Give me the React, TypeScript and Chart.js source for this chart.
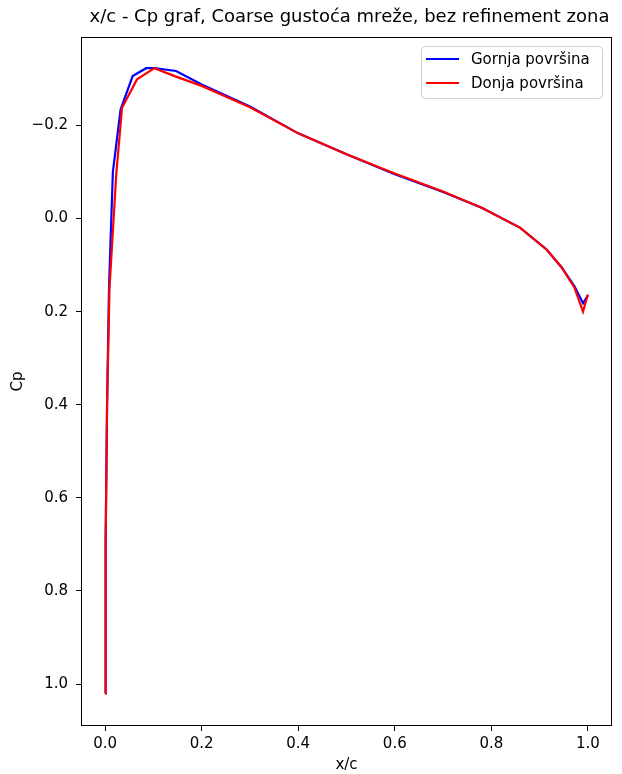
import { useEffect, useRef } from 'react';
import { Chart, registerables } from 'chart.js';

Chart.register(...registerables);

const titleText = 'x/c - Cp graf, Coarse gustoća mreže, bez refinement zona';
const xLabel = 'x/c';
const yLabel = 'Cp';
const seriesNames = ['Gornja površina', 'Donja površina'];
const seriesColors = ['#0000ff', '#ff0000'];

const upperX = [0, 0.001, 0.004, 0.008, 0.016, 0.032, 0.057, 0.085, 0.102, 0.147, 0.2, 0.3, 0.4, 0.5, 0.6, 0.7, 0.78, 0.86, 0.915, 0.945, 0.972, 0.99, 1.0];
const upperCp = [1.02, 0.7, 0.4, 0.15, -0.1, -0.234, -0.306, -0.323, -0.323, -0.317, -0.288, -0.241, -0.183, -0.138, -0.095, -0.057, -0.023, 0.02, 0.067, 0.104, 0.145, 0.182, 0.165];

const lowerX = [0, 0.001, 0.004, 0.009, 0.023, 0.035, 0.066, 0.102, 0.144, 0.2, 0.3, 0.4, 0.5, 0.6, 0.7, 0.78, 0.86, 0.915, 0.945, 0.972, 0.99, 1.0];
const lowerCp = [1.02, 0.7, 0.4, 0.15, -0.095, -0.238, -0.299, -0.323, -0.306, -0.285, -0.239, -0.183, -0.138, -0.097, -0.058, -0.023, 0.02, 0.067, 0.104, 0.148, 0.2, 0.163];

const xTicks = [0, 0.2, 0.4, 0.6, 0.8, 1.0];
const yTicks = [-0.2, 0, 0.2, 0.4, 0.6, 0.8, 1.0];

const FONT = '"DejaVu Sans", sans-serif';
const fmt = (v: number) => Number(v).toFixed(1).replace('-', '\u2212');

export default function App() {
  const ref = useRef<HTMLCanvasElement>(null);

  useEffect(() => {
    document.body.style.margin = '0';
    const deco = {
      id: 'deco',
      afterDraw(chart: any) {
        const { ctx, chartArea: a } = chart;
        ctx.save();
        // frame
        ctx.strokeStyle = '#000';
        ctx.lineWidth = 1;
        ctx.strokeRect(Math.round(a.left) + 0.5, Math.round(a.top) + 0.5, Math.round(a.right - a.left) - 1, Math.round(a.bottom - a.top) - 1);
        const cx = (a.left + a.right) / 2;
        // title
        ctx.fillStyle = '#000';
        ctx.font = `18px ${FONT}`;
        ctx.textAlign = 'center';
        ctx.textBaseline = 'middle';
        ctx.fillText(titleText, cx + 3, 17);
        // x label
        ctx.font = `15px ${FONT}`;
        ctx.fillText(xLabel, cx, 765);
        // y label
        ctx.save();
        ctx.translate(18, (a.top + a.bottom) / 2);
        ctx.rotate(-Math.PI / 2);
        ctx.fillText(yLabel, 0, 0);
        ctx.restore();
        // legend
        const lx = 421, ly = 46, lw = 181, lh = 52;
        ctx.beginPath();
        ctx.roundRect(lx + 0.5, ly + 0.5, lw, lh, 4);
        ctx.fillStyle = 'rgba(255,255,255,0.8)';
        ctx.fill();
        ctx.strokeStyle = '#d0d0d0';
        ctx.lineWidth = 1;
        ctx.stroke();
        ctx.font = `15px ${FONT}`;
        ctx.textAlign = 'left';
        ctx.textBaseline = 'middle';
        const rows = [59, 83];
        seriesNames.forEach((name, i) => {
          ctx.strokeStyle = seriesColors[i];
          ctx.lineWidth = 2.2;
          ctx.beginPath();
          ctx.moveTo(426, rows[i]);
          ctx.lineTo(459, rows[i]);
          ctx.stroke();
          ctx.fillStyle = '#000';
          ctx.fillText(name, 471, rows[i] + 1);
        });
        ctx.restore();
      },
    };

    const chart = new Chart(ref.current as HTMLCanvasElement, {
      type: 'scatter',
      data: {
        datasets: [
          {
            label: seriesNames[0],
            data: upperX.map((x, i) => ({ x, y: upperCp[i] })),
            showLine: true,
            borderColor: seriesColors[0],
            backgroundColor: seriesColors[0],
            borderWidth: 2.2,
            pointRadius: 0,
            tension: 0,
            order: 1,
          },
          {
            label: seriesNames[1],
            data: lowerX.map((x, i) => ({ x, y: lowerCp[i] })),
            showLine: true,
            borderColor: seriesColors[1],
            backgroundColor: seriesColors[1],
            borderWidth: 2.2,
            pointRadius: 0,
            tension: 0,
            order: 0,
          },
        ],
      },
      options: {
        animation: false,
        responsive: false,
        devicePixelRatio: 1,
        layout: { padding: { top: 37, right: 10, left: 0, bottom: 0 } },
        plugins: {
          legend: { display: false },
          tooltip: { enabled: false },
          title: { display: false },
        },
        scales: {
          x: {
            type: 'linear',
            min: -0.05,
            max: 1.05,
            afterFit: (s: any) => { s.height = 48; },
            afterBuildTicks: (s: any) => { s.ticks = xTicks.map((v) => ({ value: v })); },
            grid: { drawOnChartArea: false, drawTicks: true, tickLength: 5, tickColor: '#000' },
            border: { display: false },
            ticks: { color: '#000', font: { family: FONT, size: 15 }, padding: 4, maxRotation: 0, callback: (v: any) => fmt(v) },
          },
          y: {
            type: 'linear',
            reverse: true,
            min: -0.39,
            max: 1.09,
            afterFit: (s: any) => { s.width = 81; },
            afterBuildTicks: (s: any) => { s.ticks = yTicks.map((v) => ({ value: v })); },
            grid: { drawOnChartArea: false, drawTicks: true, tickLength: 5, tickColor: '#000' },
            border: { display: false },
            ticks: { color: '#000', font: { family: FONT, size: 15 }, padding: 8, callback: (v: any) => fmt(v) },
          },
        },
      },
      plugins: [deco],
    } as any);
    return () => chart.destroy();
  }, []);

  return <canvas ref={ref} width={622} height={774} style={{ display: 'block' }} />;
}
